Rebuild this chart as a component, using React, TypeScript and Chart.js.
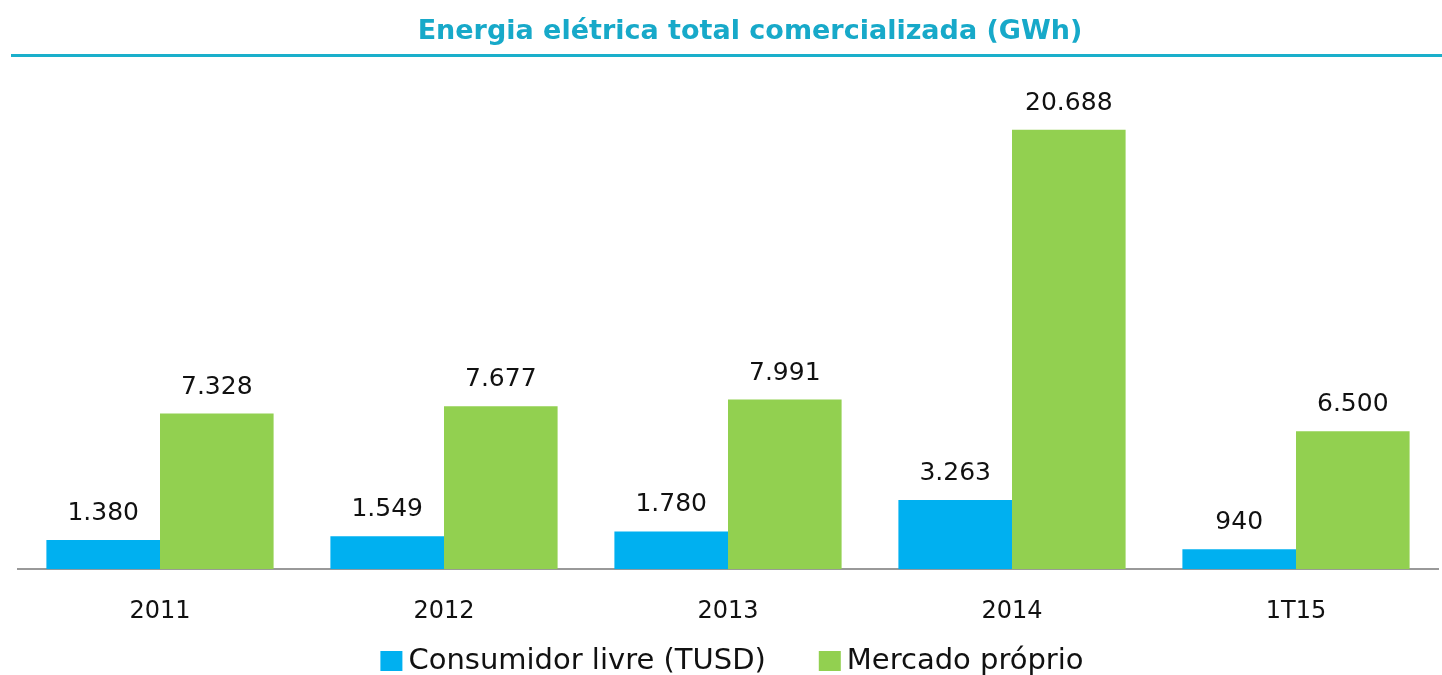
import React, { useEffect, useRef } from "react";
import { Chart, registerables } from "chart.js";

Chart.register(...registerables);

const titleText = "Energia elétrica total comercializada (GWh)";
const categories = ["2011", "2012", "2013", "2014", "1T15"];
const consumidorLivre = [1380, 1549, 1780, 3263, 940];
const mercadoProprio = [7328, 7677, 7991, 20688, 6500];
const seriesNames = ["Consumidor livre (TUSD)", "Mercado próprio"];
const seriesColors = ["#00B0F0", "#92D050"];

const FONT = "'DejaVu Sans', sans-serif";

function fmt(v: number): string {
  const s = Math.round(v).toString();
  return s.replace(/\B(?=(\d{3})+(?!\d))/g, ".");
}

const decorPlugin = {
  id: "decor",
  afterDatasetsDraw(chart: any) {
    const ctx = chart.ctx;
    ctx.save();
    // data labels
    ctx.font = `25px ${FONT}`;
    ctx.fillStyle = "#111";
    ctx.textAlign = "center";
    ctx.textBaseline = "bottom";
    chart.data.datasets.forEach((ds: any, i: number) => {
      const meta = chart.getDatasetMeta(i);
      meta.data.forEach((bar: any, j: number) => {
        ctx.fillText(fmt(ds.data[j]), bar.x, bar.y - 14);
      });
    });
    // title
    ctx.font = `bold 27px ${FONT}`;
    ctx.fillStyle = "#17A9C9";
    ctx.textBaseline = "middle";
    ctx.fillText(titleText, 750, 32);
    ctx.fillStyle = "#1AAFCB";
    ctx.fillRect(11, 54, 1431, 3);
    // legend
    ctx.font = `29px ${FONT}`;
    ctx.textAlign = "left";
    ctx.textBaseline = "middle";
    const box = 22;
    const gapText = 6;
    const gapItem = 53;
    const widths = chart.data.datasets.map((ds: any) => ctx.measureText(ds.label).width);
    const total = widths.reduce((a: number, w: number) => a + box + gapText + w, 0) + gapItem * (widths.length - 1);
    let x = 732 - total / 2;
    const yc = 661;
    chart.data.datasets.forEach((ds: any, i: number) => {
      ctx.fillStyle = ds.backgroundColor;
      ctx.fillRect(x, yc - 10, box, 20);
      ctx.fillStyle = "#111";
      ctx.fillText(ds.label, x + box + gapText, yc);
      x += box + gapText + widths[i] + gapItem;
    });
    ctx.restore();
  },
};

export default function App() {
  const ref = useRef<HTMLCanvasElement>(null);
  useEffect(() => {
    if (!ref.current) return;
    const chart = new Chart(ref.current, {
      type: "bar",
      data: {
        labels: categories,
        datasets: [
          {
            label: seriesNames[0],
            data: consumidorLivre,
            backgroundColor: seriesColors[0],
          },
          {
            label: seriesNames[1],
            data: mercadoProprio,
            backgroundColor: seriesColors[1],
          },
        ],
      },
      options: {
        animation: false,
        responsive: false,
        maintainAspectRatio: false,
        layout: { padding: { top: 102, left: 18, right: 4, bottom: 21 } },
        datasets: {
          bar: { categoryPercentage: 0.8, barPercentage: 1 },
        },
        scales: {
          x: {
            grid: { display: false, drawTicks: false },
            border: { display: true, color: "#999", width: 2 },
            ticks: {
              padding: 28,
              color: "#111",
              font: { family: FONT, size: 24 },
            },
          },
          y: {
            display: false,
            min: 0,
            max: 22000,
          },
        },
        plugins: {
          legend: { display: false },
          tooltip: { enabled: false },
        },
      },
      plugins: [decorPlugin],
    });
    return () => chart.destroy();
  }, []);
  return (
    <div style={{ position: "absolute", left: 0, top: 0, width: 1442, height: 675, background: "#fff" }}>
      <canvas ref={ref} width={1442} height={675} style={{ width: 1442, height: 675 }} />
    </div>
  );
}
